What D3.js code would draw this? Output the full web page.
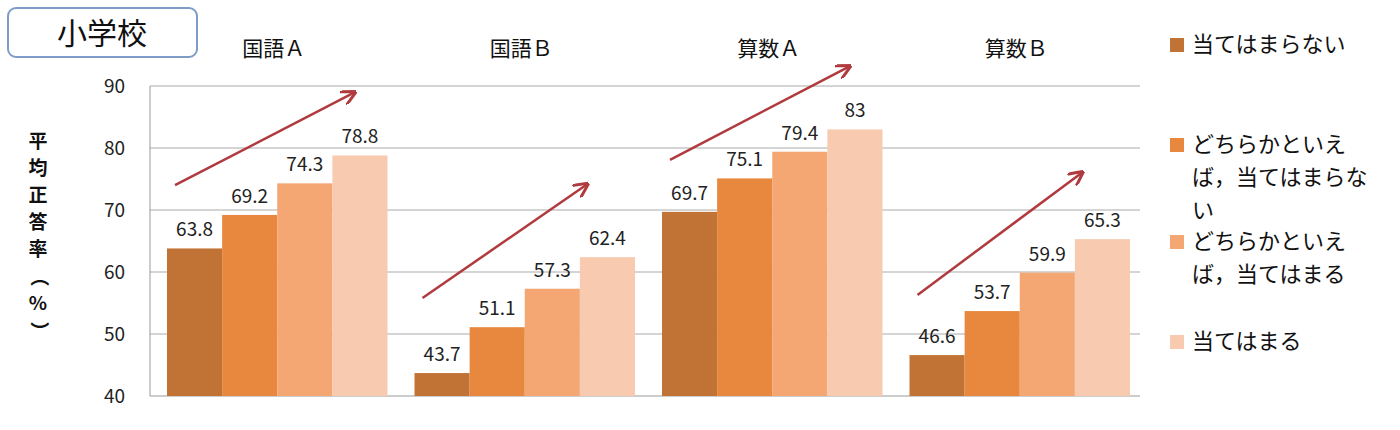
<!DOCTYPE html>
<html><head><meta charset="utf-8">
<script src="https://cdn.jsdelivr.net/npm/d3@7"></script>
<style>body{margin:0;background:#fff}text{font-family:"Noto Sans CJK JP",sans-serif}</style>
</head><body>
<svg width="1400" height="430"></svg>
<script>
const svg = d3.select("svg");

const subjects = ["国語Ａ", "国語Ｂ", "算数Ａ", "算数Ｂ"];
const series = ["当てはまらない", "どちらかといえば，当てはまらない", "どちらかといえば，当てはまる", "当てはまる"];
const legendLines = [["当てはまらない"], ["どちらかといえ", "ば，当てはまらな", "い"], ["どちらかといえ", "ば，当てはまる"], ["当てはまる"]];
const values = [
    [63.8, 69.2, 74.3, 78.8],
    [43.7, 51.1, 57.3, 62.4],
    [69.7, 75.1, 79.4, 83],
    [46.6, 53.7, 59.9, 65.3]
];
const arrowFrom = [74.0, 55.8, 78.1, 56.3];
const arrowTo = [89.0, 74.2, 93.2, 76.1];
const colors = ["#C17336", "#E8883E", "#F4A772", "#F8CBB0"];
const yTicks = [40, 50, 60, 70, 80, 90];

const plotL = 150, plotR = 1140, plotT = 86, plotB = 396;
const x0 = d3.scaleBand().domain(subjects).range([plotL, plotR]).paddingInner(0).paddingOuter(0);
const x1 = d3.scaleBand().domain(d3.range(4)).range([17, x0.bandwidth() - 10]);
const y = d3.scaleLinear().domain([40, 90]).range([plotB, plotT]);

// gridlines
svg.append("g").selectAll("line").data(yTicks).join("line")
    .attr("x1", plotL).attr("x2", plotR)
    .attr("y1", d => y(d)).attr("y2", d => y(d))
    .attr("stroke", d => d === 40 ? "#999" : "#aaa").attr("stroke-width", 1);
svg.append("line").attr("x1", plotL).attr("x2", plotL).attr("y1", plotT).attr("y2", plotB).attr("stroke", "#999");

svg.append("g").selectAll("text").data(yTicks).join("text")
    .attr("x", 125).attr("y", d => y(d)).attr("dy", "0.35em")
    .attr("text-anchor", "end").attr("font-size", 19).attr("fill", "#222").text(d => d);

// bars
const groups = svg.selectAll(".grp").data(subjects).join("g")
    .attr("transform", d => `translate(${x0(d)},0)`);
groups.selectAll("rect").data((d, i) => values[i]).join("rect")
    .attr("x", (d, j) => x1(j)).attr("width", x1.bandwidth())
    .attr("y", d => y(d)).attr("height", d => y(40) - y(d))
    .attr("fill", (d, j) => colors[j]);
groups.selectAll(".lab").data((d, i) => values[i]).join("text")
    .attr("x", (d, j) => x1(j) + x1.bandwidth() / 2).attr("y", d => y(d) - 12)
    .attr("text-anchor", "middle").attr("font-size", 19).attr("fill", "#222").text(d => d);
groups.append("text").attr("x", x0.bandwidth() / 2).attr("y", 56)
    .attr("text-anchor", "middle").attr("font-size", 21).attr("fill", "#111").text(d => d);

// arrows
svg.append("defs").append("marker").attr("id", "ah").attr("viewBox", "0 0 10 10")
    .attr("refX", 9).attr("refY", 5).attr("markerWidth", 6).attr("markerHeight", 6)
    .attr("orient", "auto").append("path").attr("d", "M0,0L10,5L0,10").attr("fill", "none")
    .attr("stroke", "#B03A3E").attr("stroke-width", 2);
groups.append("line")
    .attr("x1", 25).attr("y1", (d, i) => y(arrowFrom[i]))
    .attr("x2", (d, i) => i % 2 ? 190 : 205).attr("y2", (d, i) => y(arrowTo[i]))
    .attr("stroke", "#B03A3E").attr("stroke-width", 2.5).attr("marker-end", "url(#ah)");

// title box
svg.append("rect").attr("x", 8).attr("y", 8).attr("width", 189).attr("height", 49).attr("rx", 8)
    .attr("fill", "#fff").attr("stroke", "#7E9CC8").attr("stroke-width", 2);
svg.append("text").attr("x", 102).attr("y", 44).attr("text-anchor", "middle")
    .attr("font-size", 30).attr("fill", "#111").text("小学校");

// y label
const yl = "平均正答率（%）".split("");
svg.append("g").selectAll("text").data(yl).join("text")
    .attr("x", 38).attr("y", (d, i) => 148 + i * 27).attr("text-anchor", "middle")
    .attr("font-size", 19).attr("font-weight", "bold").attr("fill", "#111")
    .attr("transform", (d, i) => (d === "（" || d === "）") ? `rotate(90,38,${142 + i * 27})` : null)
    .text(d => d);

// legend
const legY = [48, 148, 245, 345];
const leg = svg.selectAll(".leg").data(series).join("g").attr("transform", (d, i) => `translate(1170,${legY[i]})`);
leg.append("rect").attr("x", 0).attr("y", -10).attr("width", 14).attr("height", 14).attr("fill", (d, i) => colors[i]);
leg.each(function(d, i) {
    d3.select(this).selectAll("text").data(legendLines[i]).join("text")
        .attr("x", 22).attr("y", (t, k) => k * 33 + 4).attr("font-size", 22).attr("fill", "#111").text(t => t);
});
</script>
</body></html>
